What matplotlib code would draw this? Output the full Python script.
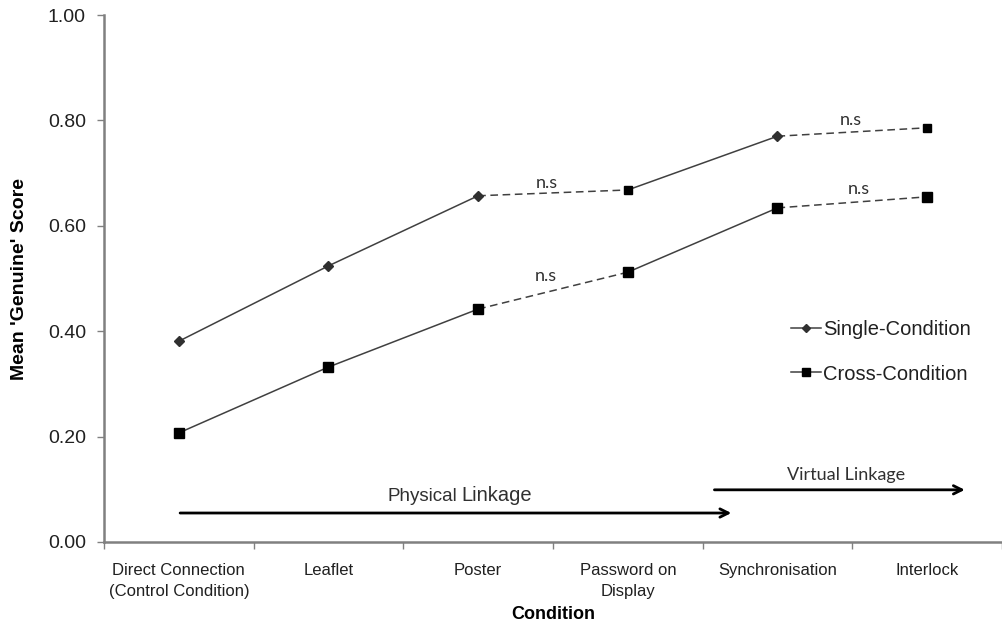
import matplotlib
matplotlib.use("Agg")
import matplotlib.pyplot as plt
import numpy as np
from matplotlib.lines import Line2D

categories = ["Direct Connection\n(Control Condition)", "Leaflet", "Poster",
              "Password on\nDisplay", "Synchronisation", "Interlock"]
single = [0.381, 0.524, 0.657, 0.668, 0.770, 0.786]
cross = [0.207, 0.332, 0.442, 0.512, 0.634, 0.655]
single_markers = ["D", "D", "D", "s", "D", "s"]
yticks = [0.0, 0.2, 0.4, 0.6, 0.8, 1.0]

plt.rcParams['font.family'] = ['Liberation Sans', 'DejaVu Sans']

fig = plt.figure(figsize=(10.03, 6.28), dpi=100)
ax = fig.add_axes([104/1003, 1-542/628, (1002-104)/1003, (542-15)/628])

x = np.arange(len(categories))
lc = "#404040"
solid_segs = [(0, 1), (1, 2), (3, 4)]
dash_segs = [(2, 3), (4, 5)]
for series in (single, cross):
    for a, b in solid_segs:
        ax.plot([x[a], x[b]], [series[a], series[b]], color=lc, lw=1.1, zorder=2)
    for a, b in dash_segs:
        ax.plot([x[a], x[b]], [series[a], series[b]], color=lc, lw=1.1,
                ls=(0, (5, 3)), zorder=2)

for xi, yi, m in zip(x, single, single_markers):
    ax.plot(xi, yi, marker=m, ms=5 if m == "D" else 6, color="#303030" if m == "D" else "black",
            ls="none", zorder=3)
ax.plot(x, cross, marker="s", ms=6.5, color="black", ls="none", zorder=3)

# legend
h1 = Line2D([], [], color=lc, lw=1.1, marker="D", ms=4, markerfacecolor="#303030", markeredgecolor="#303030")
h2 = Line2D([], [], color=lc, lw=1.1, marker="s", ms=6, markerfacecolor="black", markeredgecolor="black")
leg = ax.legend([h1, h2], ["Single-Condition", "Cross-Condition"], loc="upper left",
                bbox_to_anchor=(0.745, 0.455), frameon=False, fontsize=14.5,
                handlelength=1.5, handletextpad=0.1, labelspacing=1.25, labelcolor="#202020")

# n.s annotations
ns_font = dict(family=['Lato', 'DejaVu Sans'], fontsize=13, color="#303030", ha="center", va="bottom")
ax.text(2.46, 0.666, "n.s", **ns_font)
ax.text(4.49, 0.786, "n.s", **ns_font)
ax.text(2.45, 0.490, "n.s", **ns_font)
ax.text(4.54, 0.655, "n.s", **ns_font)

# arrows
ax.annotate("", xy=(3.71, 0.055), xytext=(-0.01, 0.055),
            arrowprops=dict(arrowstyle="->", lw=2, color="black", mutation_scale=15))
ax.annotate("", xy=(5.27, 0.099), xytext=(3.56, 0.099),
            arrowprops=dict(arrowstyle="->", lw=2, color="black", mutation_scale=15))
ax.text(1.86, 0.087, "Physical", fontsize=13.5, ha="right", va="center", color="#303030")
ax.text(1.89, 0.089, "Linkage", fontsize=14.5, ha="left", va="center", color="#303030")
ax.text(4.46, 0.127, "Virtual Linkage", fontsize=13, ha="center", va="center", color="#303030",
        family=['Lato', 'DejaVu Sans'])

ax.set_xlim(-0.5, 5.5)
ax.set_ylim(0, 1.0)
ax.set_yticks(yticks)
ax.set_yticklabels([f"{v:.2f}" for v in yticks], fontsize=14, color="#202020")
ax.set_xticks(np.arange(-0.5, 5.6, 1.0))
ax.set_xticklabels([])
ax.set_xticks(x, minor=True)
ax.set_xticklabels(categories, minor=True, fontsize=12, color="#202020", linespacing=1.5)
ax.tick_params(axis="x", which="minor", length=0, pad=15)
ax.tick_params(axis="x", which="major", length=5, color="#808080", width=1)
ax.tick_params(axis="y", length=5, color="#808080", width=1, pad=8)

for s in ("top", "right"):
    ax.spines[s].set_visible(False)
for s in ("left", "bottom"):
    ax.spines[s].set_color("#808080")
    ax.spines[s].set_linewidth(1.8)

ax.set_ylabel("Mean 'Genuine' Score", fontsize=14, fontweight="bold", labelpad=14, color="black")
ax.set_xlabel("Condition", fontsize=13, fontweight="bold", labelpad=5, color="black")

fig.savefig("out.png", dpi=100)
